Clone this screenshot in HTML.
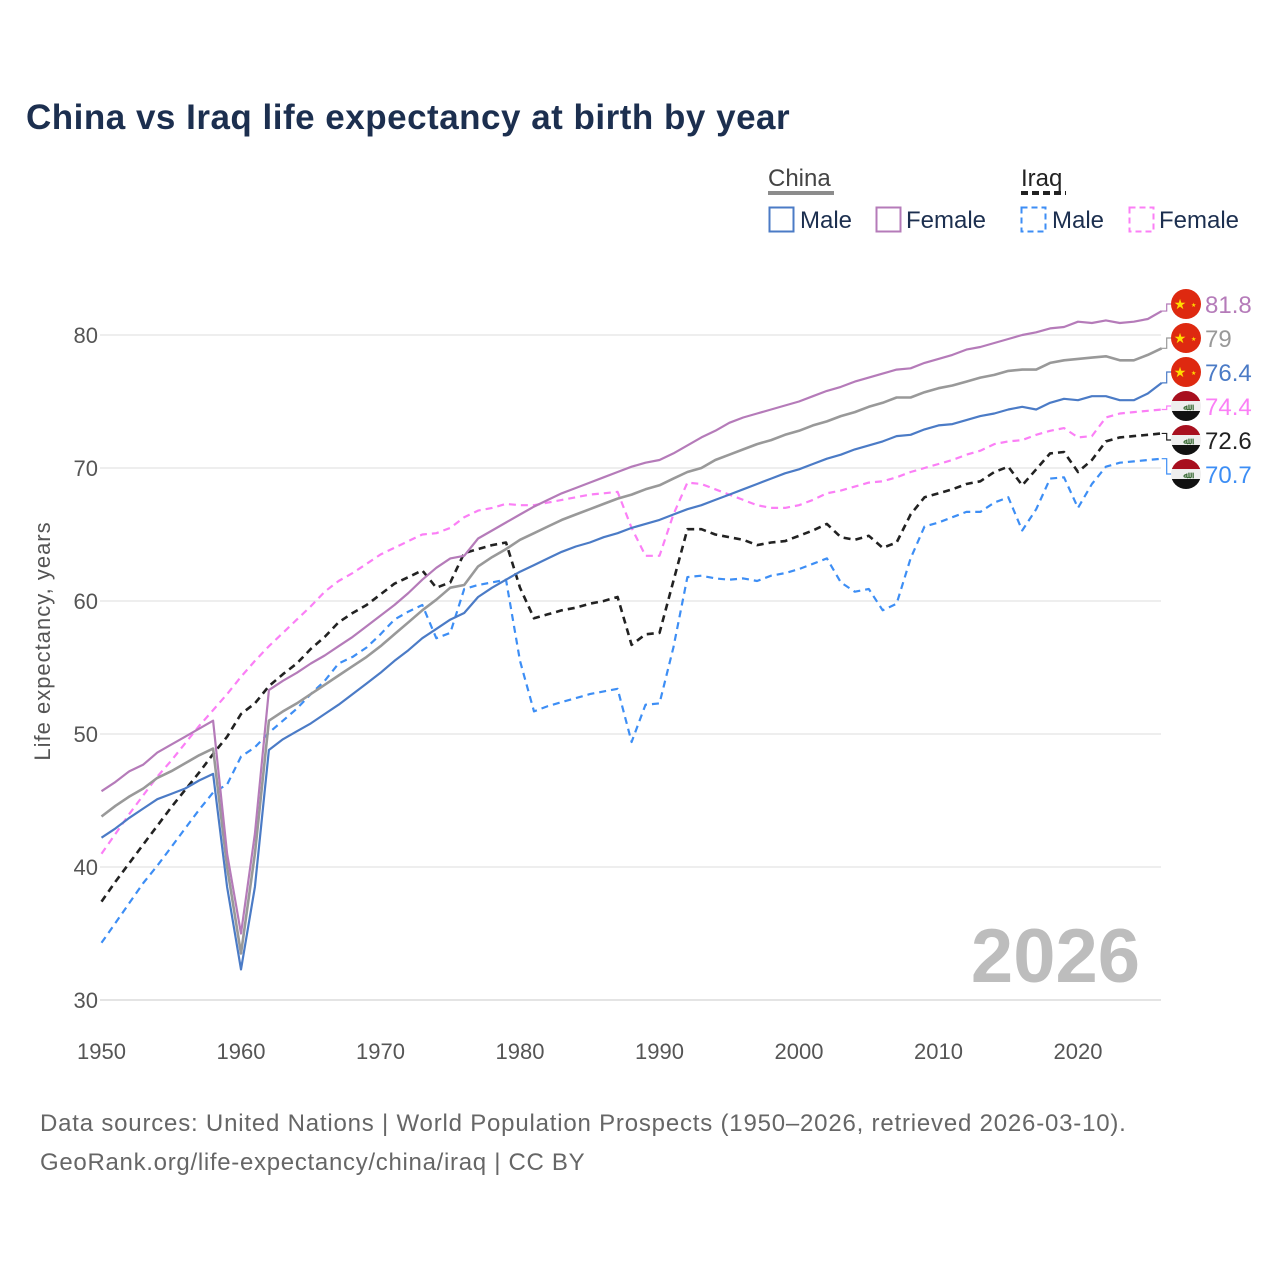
<!DOCTYPE html>
<html><head><meta charset="utf-8"><style>
body{margin:0;background:#fff;font-family:"Liberation Sans",sans-serif;}
#wrap{position:relative;width:1280px;height:1280px;overflow:hidden;background:#fff}
</style></head><body>
<div id="wrap">
<svg id="chart" width="1280" height="1280" xmlns="http://www.w3.org/2000/svg">
<text x="26" y="129" font-size="35" font-weight="bold" fill="#1c2f4f" letter-spacing="0.5">China vs Iraq life expectancy at birth by year</text>
<g font-size="24" fill="#1c2f4f">
<text x="768" y="186" fill="#444">China</text>
<line x1="768" y1="193" x2="834" y2="193" stroke="#8c8c8c" stroke-width="4"/>
<text x="1021" y="186" fill="#222">Iraq</text>
<line x1="1021" y1="193" x2="1066" y2="193" stroke="#222" stroke-width="4" stroke-dasharray="7,4"/>
<rect x="769.5" y="207.5" width="24" height="24" fill="none" stroke="#4b7bc6" stroke-width="2"/>
<text x="800" y="228">Male</text>
<rect x="876.5" y="207.5" width="24" height="24" fill="none" stroke="#b57bb9" stroke-width="2"/>
<text x="906" y="228">Female</text>
<rect x="1021.5" y="207.5" width="24" height="24" fill="none" stroke="#3d8ef5" stroke-width="2" stroke-dasharray="6,4"/>
<text x="1052" y="228">Male</text>
<rect x="1129.5" y="207.5" width="24" height="24" fill="none" stroke="#fb7ff6" stroke-width="2" stroke-dasharray="6,4"/>
<text x="1159" y="228">Female</text>
</g>
<text x="1140" y="982" font-size="76" font-weight="bold" fill="#bdbdbd" text-anchor="end">2026</text>
<text transform="translate(50,641) rotate(-90)" font-size="22" fill="#555" text-anchor="middle" letter-spacing="1">Life expectancy, years</text>
<g id="grid"></g><g id="lines"></g><g id="labels"></g>
<text x="40" y="1131" font-size="24" fill="#666" letter-spacing="0.8">Data sources: United Nations | World Population Prospects (1950–2026, retrieved 2026-03-10).</text>
<text x="40" y="1170" font-size="24" fill="#666" letter-spacing="0.7">GeoRank.org/life-expectancy/china/iraq | CC BY</text>
</svg>
</div>
<script>
const years = Array.from({length:77},(_, i)=>1950+i);
const yTicks = [30,40,50,60,70,80];
const xTicks = [1950,1960,1970,1980,1990,2000,2010,2020];
const chinaFemale = [45.7,46.4,47.2,47.7,48.6,49.2,49.8,50.4,51.0,41.0,35.0,42.5,53.3,54.0,54.6,55.3,55.9,56.6,57.3,58.1,58.9,59.7,60.6,61.6,62.5,63.2,63.4,64.7,65.3,65.9,66.5,67.1,67.6,68.1,68.5,68.9,69.3,69.7,70.1,70.4,70.6,71.1,71.7,72.3,72.8,73.4,73.8,74.1,74.4,74.7,75.0,75.4,75.8,76.1,76.5,76.8,77.1,77.4,77.5,77.9,78.2,78.5,78.9,79.1,79.4,79.7,80.0,80.2,80.5,80.6,81.0,80.9,81.1,80.9,81.0,81.2,81.8];
const chinaTotal = [43.8,44.6,45.3,45.9,46.7,47.2,47.8,48.4,48.9,40.0,33.5,41.0,51.0,51.7,52.3,53.0,53.7,54.4,55.1,55.8,56.6,57.5,58.4,59.3,60.1,61.0,61.2,62.6,63.3,63.9,64.6,65.1,65.6,66.1,66.5,66.9,67.3,67.7,68.0,68.4,68.7,69.2,69.7,70.0,70.6,71.0,71.4,71.8,72.1,72.5,72.8,73.2,73.5,73.9,74.2,74.6,74.9,75.3,75.3,75.7,76.0,76.2,76.5,76.8,77.0,77.3,77.4,77.4,77.9,78.1,78.2,78.3,78.4,78.1,78.1,78.5,79.0];
const chinaMale = [42.2,42.9,43.7,44.4,45.1,45.5,45.9,46.5,47.0,38.5,32.3,38.5,48.8,49.6,50.2,50.8,51.5,52.2,53.0,53.8,54.6,55.5,56.3,57.2,57.9,58.6,59.1,60.3,61.0,61.6,62.2,62.7,63.2,63.7,64.1,64.4,64.8,65.1,65.5,65.8,66.1,66.5,66.9,67.2,67.6,68.0,68.4,68.8,69.2,69.6,69.9,70.3,70.7,71.0,71.4,71.7,72.0,72.4,72.5,72.9,73.2,73.3,73.6,73.9,74.1,74.4,74.6,74.4,74.9,75.2,75.1,75.4,75.4,75.1,75.1,75.6,76.4];
const iraqFemale = [41.0,42.5,44.0,45.4,46.8,48.0,49.3,50.6,51.8,53.0,54.3,55.5,56.6,57.6,58.6,59.6,60.7,61.5,62.1,62.8,63.5,64.0,64.5,65.0,65.1,65.5,66.3,66.8,67.0,67.3,67.2,67.2,67.4,67.6,67.8,68.0,68.1,68.2,65.5,63.4,63.4,66.5,68.9,68.8,68.4,68.0,67.6,67.2,67.0,67.0,67.2,67.6,68.1,68.3,68.6,68.9,69.0,69.3,69.7,70.0,70.3,70.6,71.0,71.3,71.8,72.0,72.1,72.5,72.8,73.0,72.3,72.4,73.8,74.1,74.2,74.3,74.4];
const iraqTotal = [37.4,38.9,40.3,41.7,43.1,44.5,45.8,47.1,48.5,49.8,51.5,52.3,53.6,54.5,55.3,56.4,57.3,58.4,59.1,59.7,60.5,61.3,61.8,62.3,61.0,61.4,63.6,63.9,64.2,64.4,61.0,58.7,59.0,59.3,59.5,59.8,60.0,60.3,56.7,57.5,57.6,61.5,65.4,65.4,65.0,64.8,64.6,64.2,64.4,64.5,64.9,65.3,65.8,64.8,64.6,64.9,64.0,64.4,66.5,67.8,68.1,68.4,68.8,69.0,69.7,70.1,68.7,69.9,71.1,71.2,69.7,70.6,72.0,72.3,72.4,72.5,72.6];
const iraqMale = [34.3,35.8,37.3,38.8,40.1,41.5,42.9,44.3,45.6,46.2,48.3,49.0,50.1,51.0,51.9,53.0,54.0,55.3,55.8,56.5,57.5,58.6,59.2,59.7,57.2,57.6,60.9,61.2,61.4,61.6,55.5,51.7,52.1,52.4,52.7,53.0,53.2,53.4,49.4,52.2,52.3,56.5,61.8,61.9,61.7,61.6,61.7,61.5,61.9,62.1,62.4,62.8,63.2,61.4,60.7,60.9,59.3,59.8,63.2,65.6,65.9,66.3,66.7,66.7,67.4,67.8,65.3,66.9,69.2,69.3,67.0,68.8,70.1,70.4,70.5,70.6,70.7];

const NS='http://www.w3.org/2000/svg';
const X = y => 101.5 + (y-1950)*13.95;
const Y = v => 335 + (80-v)*13.3;
function mk(tag, attrs, parent){const e=document.createElementNS(NS,tag);for(const k in attrs)e.setAttribute(k,attrs[k]);parent.appendChild(e);return e;}
const grid=document.getElementById('grid');
yTicks.forEach(t=>{
  const l=mk('line',{x1:100,x2:1161,y1:Y(t),y2:Y(t),stroke:t===30?'#dcdcdc':'#e8e8e8','stroke-width':1.5},grid);
  
  
  const tx=mk('text',{x:98,y:Y(t)+8,'font-size':22,fill:'#555','text-anchor':'end'},grid);
  tx.textContent=t;
  
  
});
xTicks.forEach(t=>{
  const tx=mk('text',{x:X(t),y:1059,'font-size':22,fill:'#555','text-anchor':'middle'},grid);
  tx.textContent=t;
  
  
});
const series=[
 {name:'iraq-male',data:iraqMale,color:'#3d8ef5',dash:'7,5',w:2.2,lab:'#3d8ef5',flag:'iq'},
 {name:'iraq-total',data:iraqTotal,color:'#222',dash:'7,5',w:2.6,lab:'#222',flag:'iq'},
 {name:'iraq-female',data:iraqFemale,color:'#fb7ff6',dash:'7,5',w:2.2,lab:'#fb7ff6',flag:'iq'},
 {name:'china-male',data:chinaMale,color:'#4b7bc6',dash:null,w:2.2,lab:'#4b7bc6',flag:'cn'},
 {name:'china-total',data:chinaTotal,color:'#999',dash:null,w:2.6,lab:'#999',flag:'cn'},
 {name:'china-female',data:chinaFemale,color:'#b57bb9',dash:null,w:2.2,lab:'#b57bb9',flag:'cn'}
];
const lines=document.getElementById('lines');
series.forEach(s=>{
  const d=s.data.map((v,i)=>(i?'L':'M')+X(years[i]).toFixed(1)+','+Y(v).toFixed(1)).join('');
  const p=mk('path',{d:d,fill:'none',stroke:s.color,'stroke-width':s.w,'stroke-linejoin':'round'},lines);
  if(s.dash)p.setAttribute('stroke-dasharray',s.dash);
  
  
});
const labels=document.getElementById('labels');
const sorted=[...series].sort((a,b)=>b.data[b.data.length-1]-a.data[a.data.length-1]);
sorted.forEach((s,i)=>{
  const v=s.data[s.data.length-1];
  const ly=304+i*34, ey=Y(v), ex=X(2026);
  const c=mk('path',{d:`M${ex},${ey}H${ex+5}V${ly}H${1172}`,fill:'none',stroke:s.color,'stroke-width':1.2},labels);
  
  
  const g=mk('g',{},labels);
  
  
  if(s.flag==='cn'){
    mk('circle',{cx:1186,cy:ly,r:15,fill:'#de2910'},g);
    const st=mk('text',{x:1180,y:ly+5,'font-size':14,fill:'#ffde00','text-anchor':'middle'},g);st.textContent='★';
    const st2=mk('text',{x:1191,y:ly+3,'font-size':6,fill:'#ffde00'},g);st2.textContent='★';
  }else{
    const id='clip'+i;
    const cp=mk('clipPath',{id:id},g);mk('circle',{cx:1186,cy:ly,r:15},cp);
    const gg=mk('g',{'clip-path':`url(#${id})`},g);
    mk('rect',{x:1170,y:ly-15,width:32,height:10,fill:'#a8101f'},gg);
    mk('rect',{x:1170,y:ly-5,width:32,height:10,fill:'#eee'},gg);
    mk('rect',{x:1170,y:ly+5,width:32,height:11,fill:'#111'},gg);
    const t=mk('text',{x:1186,y:ly+4,'font-size':9,'font-weight':'bold',fill:'#3a6b35','text-anchor':'middle'},gg);t.textContent='ﷲ';
  }
  const tx=mk('text',{x:1205,y:ly+9,'font-size':24,fill:s.lab},labels);
  tx.textContent=String(v);
  
  
});
</script>
</body></html>
